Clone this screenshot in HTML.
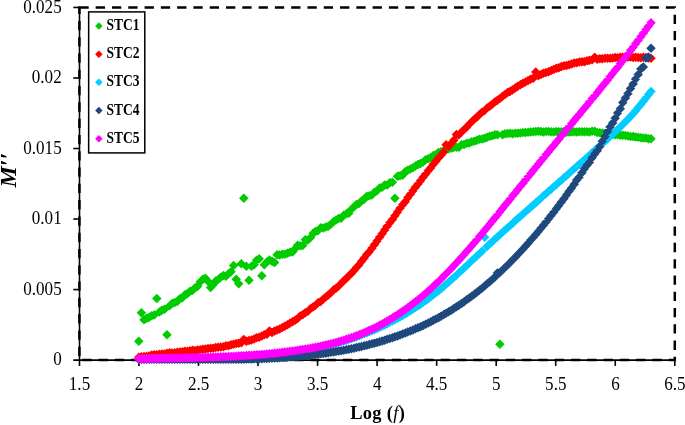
<!DOCTYPE html>
<html lang="en"><head><meta charset="utf-8"><title>M'' vs Log (f)</title>
<style>
html,body{margin:0;padding:0;background:#fff;}
body{width:685px;height:425px;position:relative;overflow:hidden;font-family:"Liberation Serif","DejaVu Serif",serif;}
svg text{font-family:"Liberation Serif","DejaVu Serif",serif;fill:#000;}
</style></head><body>
<svg width="685" height="425" viewBox="0 0 685 425" style="position:absolute;left:0;top:0">
<rect x="0" y="0" width="685" height="425" fill="#fff"/>
<g stroke="#000" stroke-width="1.6" fill="none">
<path d="M79.5 7.45V365.90000000000003"/>
<path d="M73.30000000000001 360.1H674.8"/>
<path d="M73.30000000000001 289.57H79.4"/>
<path d="M73.30000000000001 219.04H79.4"/>
<path d="M73.30000000000001 148.51H79.4"/>
<path d="M73.30000000000001 77.98H79.4"/>
<path d="M73.30000000000001 7.45H79.4"/>
<path d="M138.94 360.1V365.90000000000003"/>
<path d="M198.48 360.1V365.90000000000003"/>
<path d="M258.02 360.1V365.90000000000003"/>
<path d="M317.56 360.1V365.90000000000003"/>
<path d="M377.10 360.1V365.90000000000003"/>
<path d="M436.64 360.1V365.90000000000003"/>
<path d="M496.18 360.1V365.90000000000003"/>
<path d="M555.72 360.1V365.90000000000003"/>
<path d="M615.26 360.1V365.90000000000003"/>
<path d="M674.80 360.1V365.90000000000003"/>
</g>
<rect x="79.4" y="7.45" width="595.40" height="352.65" fill="none" stroke="#000" stroke-width="2.5" stroke-dasharray="9.3 6.99"/>
<path fill="#00CC00" d="M138.8 336.4l4.75 4.75l-4.75 4.75l-4.75 -4.75zM141.4 308.1l4.75 4.75l-4.75 4.75l-4.75 -4.75zM144.0 315.1l4.75 4.75l-4.75 4.75l-4.75 -4.75zM146.5 313.5l4.75 4.75l-4.75 4.75l-4.75 -4.75zM149.1 312.5l4.75 4.75l-4.75 4.75l-4.75 -4.75zM151.7 310.9l4.75 4.75l-4.75 4.75l-4.75 -4.75zM154.2 310.2l4.75 4.75l-4.75 4.75l-4.75 -4.75zM156.8 293.8l4.75 4.75l-4.75 4.75l-4.75 -4.75zM159.3 307.3l4.75 4.75l-4.75 4.75l-4.75 -4.75zM161.9 305.6l4.75 4.75l-4.75 4.75l-4.75 -4.75zM164.5 304.5l4.75 4.75l-4.75 4.75l-4.75 -4.75zM167.0 330.1l4.75 4.75l-4.75 4.75l-4.75 -4.75zM169.6 301.0l4.75 4.75l-4.75 4.75l-4.75 -4.75zM172.1 298.8l4.75 4.75l-4.75 4.75l-4.75 -4.75zM174.7 297.8l4.75 4.75l-4.75 4.75l-4.75 -4.75zM177.3 296.8l4.75 4.75l-4.75 4.75l-4.75 -4.75zM179.8 294.0l4.75 4.75l-4.75 4.75l-4.75 -4.75zM182.4 293.0l4.75 4.75l-4.75 4.75l-4.75 -4.75zM184.9 290.1l4.75 4.75l-4.75 4.75l-4.75 -4.75zM187.5 288.7l4.75 4.75l-4.75 4.75l-4.75 -4.75zM190.1 286.4l4.75 4.75l-4.75 4.75l-4.75 -4.75zM192.6 285.6l4.75 4.75l-4.75 4.75l-4.75 -4.75zM195.2 283.1l4.75 4.75l-4.75 4.75l-4.75 -4.75zM197.7 281.6l4.75 4.75l-4.75 4.75l-4.75 -4.75zM200.3 277.0l4.75 4.75l-4.75 4.75l-4.75 -4.75zM202.9 274.6l4.75 4.75l-4.75 4.75l-4.75 -4.75zM205.4 273.6l4.75 4.75l-4.75 4.75l-4.75 -4.75zM208.0 276.4l4.75 4.75l-4.75 4.75l-4.75 -4.75zM210.6 282.8l4.75 4.75l-4.75 4.75l-4.75 -4.75zM213.1 280.1l4.75 4.75l-4.75 4.75l-4.75 -4.75zM215.7 276.2l4.75 4.75l-4.75 4.75l-4.75 -4.75zM218.2 274.8l4.75 4.75l-4.75 4.75l-4.75 -4.75zM220.8 272.5l4.75 4.75l-4.75 4.75l-4.75 -4.75zM223.4 270.7l4.75 4.75l-4.75 4.75l-4.75 -4.75zM225.9 271.4l4.75 4.75l-4.75 4.75l-4.75 -4.75zM228.5 269.0l4.75 4.75l-4.75 4.75l-4.75 -4.75zM231.0 266.9l4.75 4.75l-4.75 4.75l-4.75 -4.75zM233.6 260.8l4.75 4.75l-4.75 4.75l-4.75 -4.75zM236.2 274.4l4.75 4.75l-4.75 4.75l-4.75 -4.75zM238.7 279.1l4.75 4.75l-4.75 4.75l-4.75 -4.75zM241.3 258.9l4.75 4.75l-4.75 4.75l-4.75 -4.75zM243.8 193.4l4.75 4.75l-4.75 4.75l-4.75 -4.75zM246.4 261.6l4.75 4.75l-4.75 4.75l-4.75 -4.75zM249.0 275.6l4.75 4.75l-4.75 4.75l-4.75 -4.75zM251.5 261.5l4.75 4.75l-4.75 4.75l-4.75 -4.75zM254.1 260.1l4.75 4.75l-4.75 4.75l-4.75 -4.75zM256.6 255.4l4.75 4.75l-4.75 4.75l-4.75 -4.75zM259.2 254.0l4.75 4.75l-4.75 4.75l-4.75 -4.75zM261.8 270.9l4.75 4.75l-4.75 4.75l-4.75 -4.75zM264.3 260.1l4.75 4.75l-4.75 4.75l-4.75 -4.75zM266.9 257.3l4.75 4.75l-4.75 4.75l-4.75 -4.75zM269.4 255.3l4.75 4.75l-4.75 4.75l-4.75 -4.75zM272.0 256.6l4.75 4.75l-4.75 4.75l-4.75 -4.75zM274.6 257.8l4.75 4.75l-4.75 4.75l-4.75 -4.75zM277.1 250.0l4.75 4.75l-4.75 4.75l-4.75 -4.75zM279.7 250.3l4.75 4.75l-4.75 4.75l-4.75 -4.75zM282.3 249.6l4.75 4.75l-4.75 4.75l-4.75 -4.75zM284.8 249.5l4.75 4.75l-4.75 4.75l-4.75 -4.75zM287.4 248.4l4.75 4.75l-4.75 4.75l-4.75 -4.75zM289.9 247.6l4.75 4.75l-4.75 4.75l-4.75 -4.75zM292.5 247.3l4.75 4.75l-4.75 4.75l-4.75 -4.75zM295.1 244.0l4.75 4.75l-4.75 4.75l-4.75 -4.75zM297.6 240.5l4.75 4.75l-4.75 4.75l-4.75 -4.75zM300.2 241.1l4.75 4.75l-4.75 4.75l-4.75 -4.75zM302.7 240.8l4.75 4.75l-4.75 4.75l-4.75 -4.75zM305.3 235.1l4.75 4.75l-4.75 4.75l-4.75 -4.75zM307.9 235.3l4.75 4.75l-4.75 4.75l-4.75 -4.75zM310.4 233.0l4.75 4.75l-4.75 4.75l-4.75 -4.75zM313.0 228.7l4.75 4.75l-4.75 4.75l-4.75 -4.75zM315.5 226.7l4.75 4.75l-4.75 4.75l-4.75 -4.75zM318.1 225.8l4.75 4.75l-4.75 4.75l-4.75 -4.75zM320.7 222.9l4.75 4.75l-4.75 4.75l-4.75 -4.75zM323.2 223.2l4.75 4.75l-4.75 4.75l-4.75 -4.75zM325.8 222.2l4.75 4.75l-4.75 4.75l-4.75 -4.75zM328.3 221.5l4.75 4.75l-4.75 4.75l-4.75 -4.75zM330.9 219.4l4.75 4.75l-4.75 4.75l-4.75 -4.75zM333.5 216.9l4.75 4.75l-4.75 4.75l-4.75 -4.75zM336.0 215.2l4.75 4.75l-4.75 4.75l-4.75 -4.75zM338.6 213.8l4.75 4.75l-4.75 4.75l-4.75 -4.75zM341.1 213.6l4.75 4.75l-4.75 4.75l-4.75 -4.75zM343.7 210.6l4.75 4.75l-4.75 4.75l-4.75 -4.75zM346.3 209.1l4.75 4.75l-4.75 4.75l-4.75 -4.75zM348.8 208.5l4.75 4.75l-4.75 4.75l-4.75 -4.75zM351.4 204.5l4.75 4.75l-4.75 4.75l-4.75 -4.75zM354.0 202.1l4.75 4.75l-4.75 4.75l-4.75 -4.75zM356.5 199.8l4.75 4.75l-4.75 4.75l-4.75 -4.75zM359.1 198.6l4.75 4.75l-4.75 4.75l-4.75 -4.75zM361.6 196.2l4.75 4.75l-4.75 4.75l-4.75 -4.75zM364.2 194.6l4.75 4.75l-4.75 4.75l-4.75 -4.75zM366.8 191.6l4.75 4.75l-4.75 4.75l-4.75 -4.75zM369.3 191.1l4.75 4.75l-4.75 4.75l-4.75 -4.75zM371.9 190.3l4.75 4.75l-4.75 4.75l-4.75 -4.75zM374.4 187.4l4.75 4.75l-4.75 4.75l-4.75 -4.75zM377.0 186.1l4.75 4.75l-4.75 4.75l-4.75 -4.75zM379.6 183.2l4.75 4.75l-4.75 4.75l-4.75 -4.75zM382.1 182.4l4.75 4.75l-4.75 4.75l-4.75 -4.75zM384.7 180.3l4.75 4.75l-4.75 4.75l-4.75 -4.75zM387.2 180.3l4.75 4.75l-4.75 4.75l-4.75 -4.75zM389.8 178.1l4.75 4.75l-4.75 4.75l-4.75 -4.75zM392.4 177.4l4.75 4.75l-4.75 4.75l-4.75 -4.75zM394.9 193.4l4.75 4.75l-4.75 4.75l-4.75 -4.75zM397.5 171.6l4.75 4.75l-4.75 4.75l-4.75 -4.75zM400.0 171.0l4.75 4.75l-4.75 4.75l-4.75 -4.75zM402.6 170.5l4.75 4.75l-4.75 4.75l-4.75 -4.75zM405.2 167.0l4.75 4.75l-4.75 4.75l-4.75 -4.75zM407.7 165.4l4.75 4.75l-4.75 4.75l-4.75 -4.75zM410.3 164.3l4.75 4.75l-4.75 4.75l-4.75 -4.75zM412.9 163.0l4.75 4.75l-4.75 4.75l-4.75 -4.75zM415.4 161.2l4.75 4.75l-4.75 4.75l-4.75 -4.75zM418.0 159.8l4.75 4.75l-4.75 4.75l-4.75 -4.75zM420.5 158.8l4.75 4.75l-4.75 4.75l-4.75 -4.75zM423.1 157.3l4.75 4.75l-4.75 4.75l-4.75 -4.75zM425.7 155.1l4.75 4.75l-4.75 4.75l-4.75 -4.75zM428.2 154.1l4.75 4.75l-4.75 4.75l-4.75 -4.75zM430.8 152.8l4.75 4.75l-4.75 4.75l-4.75 -4.75zM433.3 150.7l4.75 4.75l-4.75 4.75l-4.75 -4.75zM435.9 149.7l4.75 4.75l-4.75 4.75l-4.75 -4.75zM438.5 147.7l4.75 4.75l-4.75 4.75l-4.75 -4.75zM441.0 147.1l4.75 4.75l-4.75 4.75l-4.75 -4.75zM443.6 146.0l4.75 4.75l-4.75 4.75l-4.75 -4.75zM446.1 145.1l4.75 4.75l-4.75 4.75l-4.75 -4.75zM448.7 144.1l4.75 4.75l-4.75 4.75l-4.75 -4.75zM451.3 143.4l4.75 4.75l-4.75 4.75l-4.75 -4.75zM453.8 142.5l4.75 4.75l-4.75 4.75l-4.75 -4.75zM456.4 142.6l4.75 4.75l-4.75 4.75l-4.75 -4.75zM458.9 142.4l4.75 4.75l-4.75 4.75l-4.75 -4.75zM461.5 140.0l4.75 4.75l-4.75 4.75l-4.75 -4.75zM464.1 139.8l4.75 4.75l-4.75 4.75l-4.75 -4.75zM466.6 138.4l4.75 4.75l-4.75 4.75l-4.75 -4.75zM469.2 138.2l4.75 4.75l-4.75 4.75l-4.75 -4.75zM471.7 137.0l4.75 4.75l-4.75 4.75l-4.75 -4.75zM474.3 136.5l4.75 4.75l-4.75 4.75l-4.75 -4.75zM476.9 135.6l4.75 4.75l-4.75 4.75l-4.75 -4.75zM479.4 134.4l4.75 4.75l-4.75 4.75l-4.75 -4.75zM482.0 134.3l4.75 4.75l-4.75 4.75l-4.75 -4.75zM484.6 133.6l4.75 4.75l-4.75 4.75l-4.75 -4.75zM487.1 132.4l4.75 4.75l-4.75 4.75l-4.75 -4.75zM489.7 131.6l4.75 4.75l-4.75 4.75l-4.75 -4.75zM492.2 130.9l4.75 4.75l-4.75 4.75l-4.75 -4.75zM494.8 130.0l4.75 4.75l-4.75 4.75l-4.75 -4.75zM497.4 129.9l4.75 4.75l-4.75 4.75l-4.75 -4.75zM499.9 339.6l4.75 4.75l-4.75 4.75l-4.75 -4.75zM502.5 130.0l4.75 4.75l-4.75 4.75l-4.75 -4.75zM505.0 128.9l4.75 4.75l-4.75 4.75l-4.75 -4.75zM507.6 128.8l4.75 4.75l-4.75 4.75l-4.75 -4.75zM510.2 128.5l4.75 4.75l-4.75 4.75l-4.75 -4.75zM512.7 128.9l4.75 4.75l-4.75 4.75l-4.75 -4.75zM515.3 128.5l4.75 4.75l-4.75 4.75l-4.75 -4.75zM517.8 128.6l4.75 4.75l-4.75 4.75l-4.75 -4.75zM520.4 128.2l4.75 4.75l-4.75 4.75l-4.75 -4.75zM523.0 127.8l4.75 4.75l-4.75 4.75l-4.75 -4.75zM525.5 127.7l4.75 4.75l-4.75 4.75l-4.75 -4.75zM528.1 127.4l4.75 4.75l-4.75 4.75l-4.75 -4.75zM530.6 127.3l4.75 4.75l-4.75 4.75l-4.75 -4.75zM533.2 127.0l4.75 4.75l-4.75 4.75l-4.75 -4.75zM535.8 126.8l4.75 4.75l-4.75 4.75l-4.75 -4.75zM538.3 126.6l4.75 4.75l-4.75 4.75l-4.75 -4.75zM540.9 126.7l4.75 4.75l-4.75 4.75l-4.75 -4.75zM543.4 127.3l4.75 4.75l-4.75 4.75l-4.75 -4.75zM546.0 126.8l4.75 4.75l-4.75 4.75l-4.75 -4.75zM548.6 126.8l4.75 4.75l-4.75 4.75l-4.75 -4.75zM551.1 127.1l4.75 4.75l-4.75 4.75l-4.75 -4.75zM553.7 127.3l4.75 4.75l-4.75 4.75l-4.75 -4.75zM556.3 126.8l4.75 4.75l-4.75 4.75l-4.75 -4.75zM558.8 127.1l4.75 4.75l-4.75 4.75l-4.75 -4.75zM561.4 127.0l4.75 4.75l-4.75 4.75l-4.75 -4.75zM563.9 126.8l4.75 4.75l-4.75 4.75l-4.75 -4.75zM566.5 127.4l4.75 4.75l-4.75 4.75l-4.75 -4.75zM569.1 127.2l4.75 4.75l-4.75 4.75l-4.75 -4.75zM571.6 127.2l4.75 4.75l-4.75 4.75l-4.75 -4.75zM574.2 127.1l4.75 4.75l-4.75 4.75l-4.75 -4.75zM576.7 127.3l4.75 4.75l-4.75 4.75l-4.75 -4.75zM579.3 127.1l4.75 4.75l-4.75 4.75l-4.75 -4.75zM581.9 127.1l4.75 4.75l-4.75 4.75l-4.75 -4.75zM584.4 126.9l4.75 4.75l-4.75 4.75l-4.75 -4.75zM587.0 126.9l4.75 4.75l-4.75 4.75l-4.75 -4.75zM589.5 127.3l4.75 4.75l-4.75 4.75l-4.75 -4.75zM592.1 126.6l4.75 4.75l-4.75 4.75l-4.75 -4.75zM594.7 126.5l4.75 4.75l-4.75 4.75l-4.75 -4.75zM597.2 127.7l4.75 4.75l-4.75 4.75l-4.75 -4.75zM599.8 127.9l4.75 4.75l-4.75 4.75l-4.75 -4.75zM602.3 128.2l4.75 4.75l-4.75 4.75l-4.75 -4.75zM604.9 128.7l4.75 4.75l-4.75 4.75l-4.75 -4.75zM607.5 128.8l4.75 4.75l-4.75 4.75l-4.75 -4.75zM610.0 129.1l4.75 4.75l-4.75 4.75l-4.75 -4.75zM612.6 129.4l4.75 4.75l-4.75 4.75l-4.75 -4.75zM615.1 129.9l4.75 4.75l-4.75 4.75l-4.75 -4.75zM617.7 130.1l4.75 4.75l-4.75 4.75l-4.75 -4.75zM620.3 130.4l4.75 4.75l-4.75 4.75l-4.75 -4.75zM622.8 130.5l4.75 4.75l-4.75 4.75l-4.75 -4.75zM625.4 130.7l4.75 4.75l-4.75 4.75l-4.75 -4.75zM628.0 131.3l4.75 4.75l-4.75 4.75l-4.75 -4.75zM630.5 131.7l4.75 4.75l-4.75 4.75l-4.75 -4.75zM633.1 131.8l4.75 4.75l-4.75 4.75l-4.75 -4.75zM635.6 132.2l4.75 4.75l-4.75 4.75l-4.75 -4.75zM638.2 132.6l4.75 4.75l-4.75 4.75l-4.75 -4.75zM640.8 132.9l4.75 4.75l-4.75 4.75l-4.75 -4.75zM643.3 133.2l4.75 4.75l-4.75 4.75l-4.75 -4.75zM645.9 133.3l4.75 4.75l-4.75 4.75l-4.75 -4.75zM648.4 134.0l4.75 4.75l-4.75 4.75l-4.75 -4.75zM651.0 133.9l4.75 4.75l-4.75 4.75l-4.75 -4.75z"/>
<path fill="#FF0000" d="M138.8 352.6l4.75 4.75l-4.75 4.75l-4.75 -4.75zM141.4 352.1l4.75 4.75l-4.75 4.75l-4.75 -4.75zM144.0 351.8l4.75 4.75l-4.75 4.75l-4.75 -4.75zM146.5 351.7l4.75 4.75l-4.75 4.75l-4.75 -4.75zM149.1 351.2l4.75 4.75l-4.75 4.75l-4.75 -4.75zM151.7 350.3l4.75 4.75l-4.75 4.75l-4.75 -4.75zM154.2 349.9l4.75 4.75l-4.75 4.75l-4.75 -4.75zM156.8 350.1l4.75 4.75l-4.75 4.75l-4.75 -4.75zM159.3 349.4l4.75 4.75l-4.75 4.75l-4.75 -4.75zM161.9 349.3l4.75 4.75l-4.75 4.75l-4.75 -4.75zM164.5 349.2l4.75 4.75l-4.75 4.75l-4.75 -4.75zM167.0 348.4l4.75 4.75l-4.75 4.75l-4.75 -4.75zM169.6 348.0l4.75 4.75l-4.75 4.75l-4.75 -4.75zM172.1 348.2l4.75 4.75l-4.75 4.75l-4.75 -4.75zM174.7 347.9l4.75 4.75l-4.75 4.75l-4.75 -4.75zM177.3 347.6l4.75 4.75l-4.75 4.75l-4.75 -4.75zM179.8 347.3l4.75 4.75l-4.75 4.75l-4.75 -4.75zM182.4 346.9l4.75 4.75l-4.75 4.75l-4.75 -4.75zM184.9 346.5l4.75 4.75l-4.75 4.75l-4.75 -4.75zM187.5 346.5l4.75 4.75l-4.75 4.75l-4.75 -4.75zM190.1 346.0l4.75 4.75l-4.75 4.75l-4.75 -4.75zM192.6 345.6l4.75 4.75l-4.75 4.75l-4.75 -4.75zM195.2 345.8l4.75 4.75l-4.75 4.75l-4.75 -4.75zM197.7 345.3l4.75 4.75l-4.75 4.75l-4.75 -4.75zM200.3 345.1l4.75 4.75l-4.75 4.75l-4.75 -4.75zM202.9 344.5l4.75 4.75l-4.75 4.75l-4.75 -4.75zM205.4 344.3l4.75 4.75l-4.75 4.75l-4.75 -4.75zM208.0 343.8l4.75 4.75l-4.75 4.75l-4.75 -4.75zM210.6 343.5l4.75 4.75l-4.75 4.75l-4.75 -4.75zM213.1 343.4l4.75 4.75l-4.75 4.75l-4.75 -4.75zM215.7 342.8l4.75 4.75l-4.75 4.75l-4.75 -4.75zM218.2 342.6l4.75 4.75l-4.75 4.75l-4.75 -4.75zM220.8 342.2l4.75 4.75l-4.75 4.75l-4.75 -4.75zM223.4 342.0l4.75 4.75l-4.75 4.75l-4.75 -4.75zM225.9 340.9l4.75 4.75l-4.75 4.75l-4.75 -4.75zM228.5 340.9l4.75 4.75l-4.75 4.75l-4.75 -4.75zM231.0 340.1l4.75 4.75l-4.75 4.75l-4.75 -4.75zM233.6 339.6l4.75 4.75l-4.75 4.75l-4.75 -4.75zM236.2 338.8l4.75 4.75l-4.75 4.75l-4.75 -4.75zM238.7 338.4l4.75 4.75l-4.75 4.75l-4.75 -4.75zM241.3 338.0l4.75 4.75l-4.75 4.75l-4.75 -4.75zM243.8 334.8l4.75 4.75l-4.75 4.75l-4.75 -4.75zM246.4 336.5l4.75 4.75l-4.75 4.75l-4.75 -4.75zM249.0 335.7l4.75 4.75l-4.75 4.75l-4.75 -4.75zM251.5 335.3l4.75 4.75l-4.75 4.75l-4.75 -4.75zM254.1 334.2l4.75 4.75l-4.75 4.75l-4.75 -4.75zM256.6 333.0l4.75 4.75l-4.75 4.75l-4.75 -4.75zM259.2 332.4l4.75 4.75l-4.75 4.75l-4.75 -4.75zM261.8 331.3l4.75 4.75l-4.75 4.75l-4.75 -4.75zM264.3 330.1l4.75 4.75l-4.75 4.75l-4.75 -4.75zM266.9 329.6l4.75 4.75l-4.75 4.75l-4.75 -4.75zM269.4 326.2l4.75 4.75l-4.75 4.75l-4.75 -4.75zM272.0 327.7l4.75 4.75l-4.75 4.75l-4.75 -4.75zM274.6 326.3l4.75 4.75l-4.75 4.75l-4.75 -4.75zM277.1 325.2l4.75 4.75l-4.75 4.75l-4.75 -4.75zM279.7 324.3l4.75 4.75l-4.75 4.75l-4.75 -4.75zM282.3 322.8l4.75 4.75l-4.75 4.75l-4.75 -4.75zM284.8 321.5l4.75 4.75l-4.75 4.75l-4.75 -4.75zM287.4 320.0l4.75 4.75l-4.75 4.75l-4.75 -4.75zM289.9 318.6l4.75 4.75l-4.75 4.75l-4.75 -4.75zM292.5 317.1l4.75 4.75l-4.75 4.75l-4.75 -4.75zM295.1 315.5l4.75 4.75l-4.75 4.75l-4.75 -4.75zM297.6 313.7l4.75 4.75l-4.75 4.75l-4.75 -4.75zM300.2 311.2l4.75 4.75l-4.75 4.75l-4.75 -4.75zM302.7 310.1l4.75 4.75l-4.75 4.75l-4.75 -4.75zM305.3 308.0l4.75 4.75l-4.75 4.75l-4.75 -4.75zM307.9 306.4l4.75 4.75l-4.75 4.75l-4.75 -4.75zM310.4 304.0l4.75 4.75l-4.75 4.75l-4.75 -4.75zM313.0 302.3l4.75 4.75l-4.75 4.75l-4.75 -4.75zM315.5 300.4l4.75 4.75l-4.75 4.75l-4.75 -4.75zM318.1 298.1l4.75 4.75l-4.75 4.75l-4.75 -4.75zM320.7 296.7l4.75 4.75l-4.75 4.75l-4.75 -4.75zM323.2 294.6l4.75 4.75l-4.75 4.75l-4.75 -4.75zM325.8 292.2l4.75 4.75l-4.75 4.75l-4.75 -4.75zM328.3 290.3l4.75 4.75l-4.75 4.75l-4.75 -4.75zM330.9 288.1l4.75 4.75l-4.75 4.75l-4.75 -4.75zM333.5 285.3l4.75 4.75l-4.75 4.75l-4.75 -4.75zM336.0 283.6l4.75 4.75l-4.75 4.75l-4.75 -4.75zM338.6 281.2l4.75 4.75l-4.75 4.75l-4.75 -4.75zM341.1 278.8l4.75 4.75l-4.75 4.75l-4.75 -4.75zM343.7 276.1l4.75 4.75l-4.75 4.75l-4.75 -4.75zM346.3 273.7l4.75 4.75l-4.75 4.75l-4.75 -4.75zM348.8 271.1l4.75 4.75l-4.75 4.75l-4.75 -4.75zM351.4 268.7l4.75 4.75l-4.75 4.75l-4.75 -4.75zM354.0 265.7l4.75 4.75l-4.75 4.75l-4.75 -4.75zM356.5 262.7l4.75 4.75l-4.75 4.75l-4.75 -4.75zM359.1 260.0l4.75 4.75l-4.75 4.75l-4.75 -4.75zM361.6 256.4l4.75 4.75l-4.75 4.75l-4.75 -4.75zM364.2 253.3l4.75 4.75l-4.75 4.75l-4.75 -4.75zM366.8 249.7l4.75 4.75l-4.75 4.75l-4.75 -4.75zM369.3 247.0l4.75 4.75l-4.75 4.75l-4.75 -4.75zM371.9 243.4l4.75 4.75l-4.75 4.75l-4.75 -4.75zM374.4 239.9l4.75 4.75l-4.75 4.75l-4.75 -4.75zM377.0 236.2l4.75 4.75l-4.75 4.75l-4.75 -4.75zM379.6 232.5l4.75 4.75l-4.75 4.75l-4.75 -4.75zM382.1 228.9l4.75 4.75l-4.75 4.75l-4.75 -4.75zM384.7 225.2l4.75 4.75l-4.75 4.75l-4.75 -4.75zM387.2 221.6l4.75 4.75l-4.75 4.75l-4.75 -4.75zM389.8 218.0l4.75 4.75l-4.75 4.75l-4.75 -4.75zM392.4 214.7l4.75 4.75l-4.75 4.75l-4.75 -4.75zM394.9 210.9l4.75 4.75l-4.75 4.75l-4.75 -4.75zM397.5 207.2l4.75 4.75l-4.75 4.75l-4.75 -4.75zM400.0 203.5l4.75 4.75l-4.75 4.75l-4.75 -4.75zM402.6 199.9l4.75 4.75l-4.75 4.75l-4.75 -4.75zM405.2 196.9l4.75 4.75l-4.75 4.75l-4.75 -4.75zM407.7 193.1l4.75 4.75l-4.75 4.75l-4.75 -4.75zM410.3 189.6l4.75 4.75l-4.75 4.75l-4.75 -4.75zM412.9 186.1l4.75 4.75l-4.75 4.75l-4.75 -4.75zM415.4 182.5l4.75 4.75l-4.75 4.75l-4.75 -4.75zM418.0 179.3l4.75 4.75l-4.75 4.75l-4.75 -4.75zM420.5 176.1l4.75 4.75l-4.75 4.75l-4.75 -4.75zM423.1 172.6l4.75 4.75l-4.75 4.75l-4.75 -4.75zM425.7 169.3l4.75 4.75l-4.75 4.75l-4.75 -4.75zM428.2 166.0l4.75 4.75l-4.75 4.75l-4.75 -4.75zM430.8 162.9l4.75 4.75l-4.75 4.75l-4.75 -4.75zM433.3 159.4l4.75 4.75l-4.75 4.75l-4.75 -4.75zM435.9 156.5l4.75 4.75l-4.75 4.75l-4.75 -4.75zM438.5 153.2l4.75 4.75l-4.75 4.75l-4.75 -4.75zM441.0 150.5l4.75 4.75l-4.75 4.75l-4.75 -4.75zM443.6 147.2l4.75 4.75l-4.75 4.75l-4.75 -4.75zM446.1 140.1l4.75 4.75l-4.75 4.75l-4.75 -4.75zM448.7 141.7l4.75 4.75l-4.75 4.75l-4.75 -4.75zM451.3 138.4l4.75 4.75l-4.75 4.75l-4.75 -4.75zM453.8 135.5l4.75 4.75l-4.75 4.75l-4.75 -4.75zM456.4 129.8l4.75 4.75l-4.75 4.75l-4.75 -4.75zM458.9 130.1l4.75 4.75l-4.75 4.75l-4.75 -4.75zM461.5 127.2l4.75 4.75l-4.75 4.75l-4.75 -4.75zM464.1 124.8l4.75 4.75l-4.75 4.75l-4.75 -4.75zM466.6 122.6l4.75 4.75l-4.75 4.75l-4.75 -4.75zM469.2 119.6l4.75 4.75l-4.75 4.75l-4.75 -4.75zM471.7 117.1l4.75 4.75l-4.75 4.75l-4.75 -4.75zM474.3 114.5l4.75 4.75l-4.75 4.75l-4.75 -4.75zM476.9 112.4l4.75 4.75l-4.75 4.75l-4.75 -4.75zM479.4 109.8l4.75 4.75l-4.75 4.75l-4.75 -4.75zM482.0 107.6l4.75 4.75l-4.75 4.75l-4.75 -4.75zM484.6 105.8l4.75 4.75l-4.75 4.75l-4.75 -4.75zM487.1 103.2l4.75 4.75l-4.75 4.75l-4.75 -4.75zM489.7 101.5l4.75 4.75l-4.75 4.75l-4.75 -4.75zM492.2 99.6l4.75 4.75l-4.75 4.75l-4.75 -4.75zM494.8 97.3l4.75 4.75l-4.75 4.75l-4.75 -4.75zM497.4 95.5l4.75 4.75l-4.75 4.75l-4.75 -4.75zM499.9 93.8l4.75 4.75l-4.75 4.75l-4.75 -4.75zM502.5 91.6l4.75 4.75l-4.75 4.75l-4.75 -4.75zM505.0 89.7l4.75 4.75l-4.75 4.75l-4.75 -4.75zM507.6 87.8l4.75 4.75l-4.75 4.75l-4.75 -4.75zM510.2 86.4l4.75 4.75l-4.75 4.75l-4.75 -4.75zM512.7 85.0l4.75 4.75l-4.75 4.75l-4.75 -4.75zM515.3 83.3l4.75 4.75l-4.75 4.75l-4.75 -4.75zM517.8 81.4l4.75 4.75l-4.75 4.75l-4.75 -4.75zM520.4 79.9l4.75 4.75l-4.75 4.75l-4.75 -4.75zM523.0 78.6l4.75 4.75l-4.75 4.75l-4.75 -4.75zM525.5 77.3l4.75 4.75l-4.75 4.75l-4.75 -4.75zM528.1 75.8l4.75 4.75l-4.75 4.75l-4.75 -4.75zM530.6 74.6l4.75 4.75l-4.75 4.75l-4.75 -4.75zM533.2 73.4l4.75 4.75l-4.75 4.75l-4.75 -4.75zM535.8 67.2l4.75 4.75l-4.75 4.75l-4.75 -4.75zM538.3 70.9l4.75 4.75l-4.75 4.75l-4.75 -4.75zM540.9 69.8l4.75 4.75l-4.75 4.75l-4.75 -4.75zM543.4 68.6l4.75 4.75l-4.75 4.75l-4.75 -4.75zM546.0 67.7l4.75 4.75l-4.75 4.75l-4.75 -4.75zM548.6 67.0l4.75 4.75l-4.75 4.75l-4.75 -4.75zM551.1 65.7l4.75 4.75l-4.75 4.75l-4.75 -4.75zM553.7 64.7l4.75 4.75l-4.75 4.75l-4.75 -4.75zM556.3 63.5l4.75 4.75l-4.75 4.75l-4.75 -4.75zM558.8 63.0l4.75 4.75l-4.75 4.75l-4.75 -4.75zM561.4 61.7l4.75 4.75l-4.75 4.75l-4.75 -4.75zM563.9 61.1l4.75 4.75l-4.75 4.75l-4.75 -4.75zM566.5 60.8l4.75 4.75l-4.75 4.75l-4.75 -4.75zM569.1 60.1l4.75 4.75l-4.75 4.75l-4.75 -4.75zM571.6 59.2l4.75 4.75l-4.75 4.75l-4.75 -4.75zM574.2 58.3l4.75 4.75l-4.75 4.75l-4.75 -4.75zM576.7 58.0l4.75 4.75l-4.75 4.75l-4.75 -4.75zM579.3 57.3l4.75 4.75l-4.75 4.75l-4.75 -4.75zM581.9 57.1l4.75 4.75l-4.75 4.75l-4.75 -4.75zM584.4 56.9l4.75 4.75l-4.75 4.75l-4.75 -4.75zM587.0 56.0l4.75 4.75l-4.75 4.75l-4.75 -4.75zM589.5 55.4l4.75 4.75l-4.75 4.75l-4.75 -4.75zM592.1 54.9l4.75 4.75l-4.75 4.75l-4.75 -4.75zM594.7 52.6l4.75 4.75l-4.75 4.75l-4.75 -4.75zM597.2 54.4l4.75 4.75l-4.75 4.75l-4.75 -4.75zM599.8 53.9l4.75 4.75l-4.75 4.75l-4.75 -4.75zM602.3 53.9l4.75 4.75l-4.75 4.75l-4.75 -4.75zM604.9 53.4l4.75 4.75l-4.75 4.75l-4.75 -4.75zM607.5 53.6l4.75 4.75l-4.75 4.75l-4.75 -4.75zM610.0 53.4l4.75 4.75l-4.75 4.75l-4.75 -4.75zM612.6 53.2l4.75 4.75l-4.75 4.75l-4.75 -4.75zM615.1 52.8l4.75 4.75l-4.75 4.75l-4.75 -4.75zM617.7 52.9l4.75 4.75l-4.75 4.75l-4.75 -4.75zM620.3 52.6l4.75 4.75l-4.75 4.75l-4.75 -4.75zM622.8 52.5l4.75 4.75l-4.75 4.75l-4.75 -4.75zM625.4 52.5l4.75 4.75l-4.75 4.75l-4.75 -4.75zM628.0 52.3l4.75 4.75l-4.75 4.75l-4.75 -4.75zM630.5 52.3l4.75 4.75l-4.75 4.75l-4.75 -4.75zM633.1 52.7l4.75 4.75l-4.75 4.75l-4.75 -4.75zM635.6 52.6l4.75 4.75l-4.75 4.75l-4.75 -4.75zM638.2 52.7l4.75 4.75l-4.75 4.75l-4.75 -4.75zM640.8 53.0l4.75 4.75l-4.75 4.75l-4.75 -4.75zM643.3 52.5l4.75 4.75l-4.75 4.75l-4.75 -4.75zM645.9 52.8l4.75 4.75l-4.75 4.75l-4.75 -4.75zM648.4 53.2l4.75 4.75l-4.75 4.75l-4.75 -4.75zM651.0 53.4l4.75 4.75l-4.75 4.75l-4.75 -4.75z"/>
<path fill="#00CCFF" d="M138.8 354.3l4.75 4.75l-4.75 4.75l-4.75 -4.75zM141.4 354.2l4.75 4.75l-4.75 4.75l-4.75 -4.75zM144.0 354.1l4.75 4.75l-4.75 4.75l-4.75 -4.75zM146.5 354.1l4.75 4.75l-4.75 4.75l-4.75 -4.75zM149.1 354.0l4.75 4.75l-4.75 4.75l-4.75 -4.75zM151.7 354.0l4.75 4.75l-4.75 4.75l-4.75 -4.75zM154.2 353.9l4.75 4.75l-4.75 4.75l-4.75 -4.75zM156.8 353.9l4.75 4.75l-4.75 4.75l-4.75 -4.75zM159.3 353.8l4.75 4.75l-4.75 4.75l-4.75 -4.75zM161.9 353.8l4.75 4.75l-4.75 4.75l-4.75 -4.75zM164.5 353.8l4.75 4.75l-4.75 4.75l-4.75 -4.75zM167.0 353.8l4.75 4.75l-4.75 4.75l-4.75 -4.75zM169.6 353.7l4.75 4.75l-4.75 4.75l-4.75 -4.75zM172.1 353.7l4.75 4.75l-4.75 4.75l-4.75 -4.75zM174.7 353.7l4.75 4.75l-4.75 4.75l-4.75 -4.75zM177.3 353.7l4.75 4.75l-4.75 4.75l-4.75 -4.75zM179.8 353.7l4.75 4.75l-4.75 4.75l-4.75 -4.75zM182.4 353.7l4.75 4.75l-4.75 4.75l-4.75 -4.75zM184.9 353.6l4.75 4.75l-4.75 4.75l-4.75 -4.75zM187.5 353.6l4.75 4.75l-4.75 4.75l-4.75 -4.75zM190.1 353.6l4.75 4.75l-4.75 4.75l-4.75 -4.75zM192.6 353.6l4.75 4.75l-4.75 4.75l-4.75 -4.75zM195.2 353.6l4.75 4.75l-4.75 4.75l-4.75 -4.75zM197.7 353.5l4.75 4.75l-4.75 4.75l-4.75 -4.75zM200.3 353.5l4.75 4.75l-4.75 4.75l-4.75 -4.75zM202.9 353.5l4.75 4.75l-4.75 4.75l-4.75 -4.75zM205.4 353.4l4.75 4.75l-4.75 4.75l-4.75 -4.75zM208.0 353.4l4.75 4.75l-4.75 4.75l-4.75 -4.75zM210.6 353.4l4.75 4.75l-4.75 4.75l-4.75 -4.75zM213.1 353.3l4.75 4.75l-4.75 4.75l-4.75 -4.75zM215.7 353.3l4.75 4.75l-4.75 4.75l-4.75 -4.75zM218.2 353.2l4.75 4.75l-4.75 4.75l-4.75 -4.75zM220.8 353.2l4.75 4.75l-4.75 4.75l-4.75 -4.75zM223.4 353.1l4.75 4.75l-4.75 4.75l-4.75 -4.75zM225.9 353.0l4.75 4.75l-4.75 4.75l-4.75 -4.75zM228.5 353.0l4.75 4.75l-4.75 4.75l-4.75 -4.75zM231.0 352.9l4.75 4.75l-4.75 4.75l-4.75 -4.75zM233.6 352.8l4.75 4.75l-4.75 4.75l-4.75 -4.75zM236.2 352.7l4.75 4.75l-4.75 4.75l-4.75 -4.75zM238.7 352.6l4.75 4.75l-4.75 4.75l-4.75 -4.75zM241.3 352.5l4.75 4.75l-4.75 4.75l-4.75 -4.75zM243.8 352.3l4.75 4.75l-4.75 4.75l-4.75 -4.75zM246.4 352.2l4.75 4.75l-4.75 4.75l-4.75 -4.75zM249.0 352.1l4.75 4.75l-4.75 4.75l-4.75 -4.75zM251.5 351.9l4.75 4.75l-4.75 4.75l-4.75 -4.75zM254.1 351.7l4.75 4.75l-4.75 4.75l-4.75 -4.75zM256.6 351.6l4.75 4.75l-4.75 4.75l-4.75 -4.75zM259.2 351.4l4.75 4.75l-4.75 4.75l-4.75 -4.75zM261.8 351.2l4.75 4.75l-4.75 4.75l-4.75 -4.75zM264.3 351.0l4.75 4.75l-4.75 4.75l-4.75 -4.75zM266.9 350.7l4.75 4.75l-4.75 4.75l-4.75 -4.75zM269.4 350.5l4.75 4.75l-4.75 4.75l-4.75 -4.75zM272.0 350.2l4.75 4.75l-4.75 4.75l-4.75 -4.75zM274.6 350.0l4.75 4.75l-4.75 4.75l-4.75 -4.75zM277.1 349.7l4.75 4.75l-4.75 4.75l-4.75 -4.75zM279.7 349.4l4.75 4.75l-4.75 4.75l-4.75 -4.75zM282.3 349.1l4.75 4.75l-4.75 4.75l-4.75 -4.75zM284.8 348.8l4.75 4.75l-4.75 4.75l-4.75 -4.75zM287.4 348.4l4.75 4.75l-4.75 4.75l-4.75 -4.75zM289.9 348.1l4.75 4.75l-4.75 4.75l-4.75 -4.75zM292.5 347.7l4.75 4.75l-4.75 4.75l-4.75 -4.75zM295.1 347.3l4.75 4.75l-4.75 4.75l-4.75 -4.75zM297.6 346.9l4.75 4.75l-4.75 4.75l-4.75 -4.75zM300.2 346.5l4.75 4.75l-4.75 4.75l-4.75 -4.75zM302.7 346.1l4.75 4.75l-4.75 4.75l-4.75 -4.75zM305.3 345.6l4.75 4.75l-4.75 4.75l-4.75 -4.75zM307.9 345.1l4.75 4.75l-4.75 4.75l-4.75 -4.75zM310.4 344.6l4.75 4.75l-4.75 4.75l-4.75 -4.75zM313.0 344.1l4.75 4.75l-4.75 4.75l-4.75 -4.75zM315.5 343.6l4.75 4.75l-4.75 4.75l-4.75 -4.75zM318.1 343.0l4.75 4.75l-4.75 4.75l-4.75 -4.75zM320.7 342.4l4.75 4.75l-4.75 4.75l-4.75 -4.75zM323.2 341.8l4.75 4.75l-4.75 4.75l-4.75 -4.75zM325.8 341.2l4.75 4.75l-4.75 4.75l-4.75 -4.75zM328.3 340.6l4.75 4.75l-4.75 4.75l-4.75 -4.75zM330.9 339.9l4.75 4.75l-4.75 4.75l-4.75 -4.75zM333.5 339.2l4.75 4.75l-4.75 4.75l-4.75 -4.75zM336.0 338.5l4.75 4.75l-4.75 4.75l-4.75 -4.75zM338.6 337.8l4.75 4.75l-4.75 4.75l-4.75 -4.75zM341.1 337.0l4.75 4.75l-4.75 4.75l-4.75 -4.75zM343.7 336.3l4.75 4.75l-4.75 4.75l-4.75 -4.75zM346.3 335.5l4.75 4.75l-4.75 4.75l-4.75 -4.75zM348.8 334.6l4.75 4.75l-4.75 4.75l-4.75 -4.75zM351.4 333.8l4.75 4.75l-4.75 4.75l-4.75 -4.75zM354.0 332.9l4.75 4.75l-4.75 4.75l-4.75 -4.75zM356.5 332.0l4.75 4.75l-4.75 4.75l-4.75 -4.75zM359.1 331.0l4.75 4.75l-4.75 4.75l-4.75 -4.75zM361.6 330.1l4.75 4.75l-4.75 4.75l-4.75 -4.75zM364.2 329.1l4.75 4.75l-4.75 4.75l-4.75 -4.75zM366.8 328.1l4.75 4.75l-4.75 4.75l-4.75 -4.75zM369.3 327.0l4.75 4.75l-4.75 4.75l-4.75 -4.75zM371.9 326.0l4.75 4.75l-4.75 4.75l-4.75 -4.75zM374.4 324.9l4.75 4.75l-4.75 4.75l-4.75 -4.75zM377.0 323.7l4.75 4.75l-4.75 4.75l-4.75 -4.75zM379.6 322.6l4.75 4.75l-4.75 4.75l-4.75 -4.75zM382.1 321.4l4.75 4.75l-4.75 4.75l-4.75 -4.75zM384.7 320.2l4.75 4.75l-4.75 4.75l-4.75 -4.75zM387.2 318.9l4.75 4.75l-4.75 4.75l-4.75 -4.75zM389.8 317.6l4.75 4.75l-4.75 4.75l-4.75 -4.75zM392.4 316.3l4.75 4.75l-4.75 4.75l-4.75 -4.75zM394.9 315.0l4.75 4.75l-4.75 4.75l-4.75 -4.75zM397.5 313.6l4.75 4.75l-4.75 4.75l-4.75 -4.75zM400.0 312.2l4.75 4.75l-4.75 4.75l-4.75 -4.75zM402.6 310.7l4.75 4.75l-4.75 4.75l-4.75 -4.75zM405.2 309.2l4.75 4.75l-4.75 4.75l-4.75 -4.75zM407.7 307.7l4.75 4.75l-4.75 4.75l-4.75 -4.75zM410.3 306.1l4.75 4.75l-4.75 4.75l-4.75 -4.75zM412.9 304.5l4.75 4.75l-4.75 4.75l-4.75 -4.75zM415.4 302.8l4.75 4.75l-4.75 4.75l-4.75 -4.75zM418.0 301.1l4.75 4.75l-4.75 4.75l-4.75 -4.75zM420.5 299.4l4.75 4.75l-4.75 4.75l-4.75 -4.75zM423.1 297.6l4.75 4.75l-4.75 4.75l-4.75 -4.75zM425.7 295.8l4.75 4.75l-4.75 4.75l-4.75 -4.75zM428.2 293.9l4.75 4.75l-4.75 4.75l-4.75 -4.75zM430.8 292.0l4.75 4.75l-4.75 4.75l-4.75 -4.75zM433.3 290.1l4.75 4.75l-4.75 4.75l-4.75 -4.75zM435.9 288.1l4.75 4.75l-4.75 4.75l-4.75 -4.75zM438.5 286.0l4.75 4.75l-4.75 4.75l-4.75 -4.75zM441.0 283.9l4.75 4.75l-4.75 4.75l-4.75 -4.75zM443.6 281.8l4.75 4.75l-4.75 4.75l-4.75 -4.75zM446.1 279.6l4.75 4.75l-4.75 4.75l-4.75 -4.75zM448.7 277.3l4.75 4.75l-4.75 4.75l-4.75 -4.75zM451.3 275.1l4.75 4.75l-4.75 4.75l-4.75 -4.75zM453.8 272.8l4.75 4.75l-4.75 4.75l-4.75 -4.75zM456.4 270.4l4.75 4.75l-4.75 4.75l-4.75 -4.75zM458.9 268.1l4.75 4.75l-4.75 4.75l-4.75 -4.75zM461.5 265.7l4.75 4.75l-4.75 4.75l-4.75 -4.75zM464.1 263.3l4.75 4.75l-4.75 4.75l-4.75 -4.75zM466.6 260.9l4.75 4.75l-4.75 4.75l-4.75 -4.75zM469.2 258.5l4.75 4.75l-4.75 4.75l-4.75 -4.75zM471.7 256.1l4.75 4.75l-4.75 4.75l-4.75 -4.75zM474.3 253.7l4.75 4.75l-4.75 4.75l-4.75 -4.75zM476.9 251.3l4.75 4.75l-4.75 4.75l-4.75 -4.75zM479.4 248.9l4.75 4.75l-4.75 4.75l-4.75 -4.75zM482.0 246.5l4.75 4.75l-4.75 4.75l-4.75 -4.75zM484.6 232.4l4.75 4.75l-4.75 4.75l-4.75 -4.75zM487.1 241.7l4.75 4.75l-4.75 4.75l-4.75 -4.75zM489.7 239.3l4.75 4.75l-4.75 4.75l-4.75 -4.75zM492.2 237.0l4.75 4.75l-4.75 4.75l-4.75 -4.75zM494.8 234.6l4.75 4.75l-4.75 4.75l-4.75 -4.75zM497.4 232.3l4.75 4.75l-4.75 4.75l-4.75 -4.75zM499.9 229.9l4.75 4.75l-4.75 4.75l-4.75 -4.75zM502.5 227.6l4.75 4.75l-4.75 4.75l-4.75 -4.75zM505.0 225.3l4.75 4.75l-4.75 4.75l-4.75 -4.75zM507.6 223.0l4.75 4.75l-4.75 4.75l-4.75 -4.75zM510.2 220.7l4.75 4.75l-4.75 4.75l-4.75 -4.75zM512.7 218.4l4.75 4.75l-4.75 4.75l-4.75 -4.75zM515.3 216.1l4.75 4.75l-4.75 4.75l-4.75 -4.75zM517.8 213.8l4.75 4.75l-4.75 4.75l-4.75 -4.75zM520.4 211.5l4.75 4.75l-4.75 4.75l-4.75 -4.75zM523.0 209.2l4.75 4.75l-4.75 4.75l-4.75 -4.75zM525.5 207.0l4.75 4.75l-4.75 4.75l-4.75 -4.75zM528.1 204.7l4.75 4.75l-4.75 4.75l-4.75 -4.75zM530.6 202.4l4.75 4.75l-4.75 4.75l-4.75 -4.75zM533.2 200.2l4.75 4.75l-4.75 4.75l-4.75 -4.75zM535.8 197.9l4.75 4.75l-4.75 4.75l-4.75 -4.75zM538.3 195.7l4.75 4.75l-4.75 4.75l-4.75 -4.75zM540.9 193.4l4.75 4.75l-4.75 4.75l-4.75 -4.75zM543.4 191.1l4.75 4.75l-4.75 4.75l-4.75 -4.75zM546.0 188.9l4.75 4.75l-4.75 4.75l-4.75 -4.75zM548.6 186.6l4.75 4.75l-4.75 4.75l-4.75 -4.75zM551.1 184.4l4.75 4.75l-4.75 4.75l-4.75 -4.75zM553.7 182.1l4.75 4.75l-4.75 4.75l-4.75 -4.75zM556.3 179.9l4.75 4.75l-4.75 4.75l-4.75 -4.75zM558.8 177.6l4.75 4.75l-4.75 4.75l-4.75 -4.75zM561.4 175.4l4.75 4.75l-4.75 4.75l-4.75 -4.75zM563.9 173.1l4.75 4.75l-4.75 4.75l-4.75 -4.75zM566.5 170.9l4.75 4.75l-4.75 4.75l-4.75 -4.75zM569.1 168.6l4.75 4.75l-4.75 4.75l-4.75 -4.75zM571.6 166.3l4.75 4.75l-4.75 4.75l-4.75 -4.75zM574.2 164.1l4.75 4.75l-4.75 4.75l-4.75 -4.75zM576.7 161.8l4.75 4.75l-4.75 4.75l-4.75 -4.75zM579.3 159.5l4.75 4.75l-4.75 4.75l-4.75 -4.75zM581.9 157.3l4.75 4.75l-4.75 4.75l-4.75 -4.75zM584.4 155.0l4.75 4.75l-4.75 4.75l-4.75 -4.75zM587.0 152.7l4.75 4.75l-4.75 4.75l-4.75 -4.75zM589.5 150.4l4.75 4.75l-4.75 4.75l-4.75 -4.75zM592.1 148.1l4.75 4.75l-4.75 4.75l-4.75 -4.75zM594.7 145.8l4.75 4.75l-4.75 4.75l-4.75 -4.75zM597.2 143.5l4.75 4.75l-4.75 4.75l-4.75 -4.75zM599.8 141.2l4.75 4.75l-4.75 4.75l-4.75 -4.75zM602.3 138.8l4.75 4.75l-4.75 4.75l-4.75 -4.75zM604.9 136.5l4.75 4.75l-4.75 4.75l-4.75 -4.75zM607.5 134.2l4.75 4.75l-4.75 4.75l-4.75 -4.75zM610.0 131.8l4.75 4.75l-4.75 4.75l-4.75 -4.75zM612.6 129.5l4.75 4.75l-4.75 4.75l-4.75 -4.75zM615.1 127.1l4.75 4.75l-4.75 4.75l-4.75 -4.75zM617.7 124.7l4.75 4.75l-4.75 4.75l-4.75 -4.75zM620.3 122.2l4.75 4.75l-4.75 4.75l-4.75 -4.75zM622.8 119.7l4.75 4.75l-4.75 4.75l-4.75 -4.75zM625.4 117.1l4.75 4.75l-4.75 4.75l-4.75 -4.75zM628.0 114.4l4.75 4.75l-4.75 4.75l-4.75 -4.75zM630.5 111.7l4.75 4.75l-4.75 4.75l-4.75 -4.75zM633.1 108.9l4.75 4.75l-4.75 4.75l-4.75 -4.75zM635.6 105.9l4.75 4.75l-4.75 4.75l-4.75 -4.75zM638.2 102.8l4.75 4.75l-4.75 4.75l-4.75 -4.75zM640.8 99.7l4.75 4.75l-4.75 4.75l-4.75 -4.75zM643.3 96.5l4.75 4.75l-4.75 4.75l-4.75 -4.75zM645.9 93.2l4.75 4.75l-4.75 4.75l-4.75 -4.75zM648.4 90.0l4.75 4.75l-4.75 4.75l-4.75 -4.75zM651.0 86.8l4.75 4.75l-4.75 4.75l-4.75 -4.75z"/>
<path fill="#1F497D" d="M138.8 354.6l4.75 4.75l-4.75 4.75l-4.75 -4.75zM141.4 354.5l4.75 4.75l-4.75 4.75l-4.75 -4.75zM144.0 354.5l4.75 4.75l-4.75 4.75l-4.75 -4.75zM146.5 354.5l4.75 4.75l-4.75 4.75l-4.75 -4.75zM149.1 354.5l4.75 4.75l-4.75 4.75l-4.75 -4.75zM151.7 354.5l4.75 4.75l-4.75 4.75l-4.75 -4.75zM154.2 354.4l4.75 4.75l-4.75 4.75l-4.75 -4.75zM156.8 354.4l4.75 4.75l-4.75 4.75l-4.75 -4.75zM159.3 354.4l4.75 4.75l-4.75 4.75l-4.75 -4.75zM161.9 354.4l4.75 4.75l-4.75 4.75l-4.75 -4.75zM164.5 354.4l4.75 4.75l-4.75 4.75l-4.75 -4.75zM167.0 354.4l4.75 4.75l-4.75 4.75l-4.75 -4.75zM169.6 354.4l4.75 4.75l-4.75 4.75l-4.75 -4.75zM172.1 354.4l4.75 4.75l-4.75 4.75l-4.75 -4.75zM174.7 354.4l4.75 4.75l-4.75 4.75l-4.75 -4.75zM177.3 354.5l4.75 4.75l-4.75 4.75l-4.75 -4.75zM179.8 354.5l4.75 4.75l-4.75 4.75l-4.75 -4.75zM182.4 354.5l4.75 4.75l-4.75 4.75l-4.75 -4.75zM184.9 354.5l4.75 4.75l-4.75 4.75l-4.75 -4.75zM187.5 354.5l4.75 4.75l-4.75 4.75l-4.75 -4.75zM190.1 354.5l4.75 4.75l-4.75 4.75l-4.75 -4.75zM192.6 354.5l4.75 4.75l-4.75 4.75l-4.75 -4.75zM195.2 354.6l4.75 4.75l-4.75 4.75l-4.75 -4.75zM197.7 354.6l4.75 4.75l-4.75 4.75l-4.75 -4.75zM200.3 354.6l4.75 4.75l-4.75 4.75l-4.75 -4.75zM202.9 354.6l4.75 4.75l-4.75 4.75l-4.75 -4.75zM205.4 354.6l4.75 4.75l-4.75 4.75l-4.75 -4.75zM208.0 354.6l4.75 4.75l-4.75 4.75l-4.75 -4.75zM210.6 354.6l4.75 4.75l-4.75 4.75l-4.75 -4.75zM213.1 354.6l4.75 4.75l-4.75 4.75l-4.75 -4.75zM215.7 354.6l4.75 4.75l-4.75 4.75l-4.75 -4.75zM218.2 354.6l4.75 4.75l-4.75 4.75l-4.75 -4.75zM220.8 354.6l4.75 4.75l-4.75 4.75l-4.75 -4.75zM223.4 354.6l4.75 4.75l-4.75 4.75l-4.75 -4.75zM225.9 354.6l4.75 4.75l-4.75 4.75l-4.75 -4.75zM228.5 354.6l4.75 4.75l-4.75 4.75l-4.75 -4.75zM231.0 354.5l4.75 4.75l-4.75 4.75l-4.75 -4.75zM233.6 354.5l4.75 4.75l-4.75 4.75l-4.75 -4.75zM236.2 354.5l4.75 4.75l-4.75 4.75l-4.75 -4.75zM238.7 354.5l4.75 4.75l-4.75 4.75l-4.75 -4.75zM241.3 354.4l4.75 4.75l-4.75 4.75l-4.75 -4.75zM243.8 354.4l4.75 4.75l-4.75 4.75l-4.75 -4.75zM246.4 354.3l4.75 4.75l-4.75 4.75l-4.75 -4.75zM249.0 354.3l4.75 4.75l-4.75 4.75l-4.75 -4.75zM251.5 354.2l4.75 4.75l-4.75 4.75l-4.75 -4.75zM254.1 354.1l4.75 4.75l-4.75 4.75l-4.75 -4.75zM256.6 354.0l4.75 4.75l-4.75 4.75l-4.75 -4.75zM259.2 354.0l4.75 4.75l-4.75 4.75l-4.75 -4.75zM261.8 353.9l4.75 4.75l-4.75 4.75l-4.75 -4.75zM264.3 353.8l4.75 4.75l-4.75 4.75l-4.75 -4.75zM266.9 353.7l4.75 4.75l-4.75 4.75l-4.75 -4.75zM269.4 353.5l4.75 4.75l-4.75 4.75l-4.75 -4.75zM272.0 353.4l4.75 4.75l-4.75 4.75l-4.75 -4.75zM274.6 353.3l4.75 4.75l-4.75 4.75l-4.75 -4.75zM277.1 353.2l4.75 4.75l-4.75 4.75l-4.75 -4.75zM279.7 353.0l4.75 4.75l-4.75 4.75l-4.75 -4.75zM282.3 352.8l4.75 4.75l-4.75 4.75l-4.75 -4.75zM284.8 352.7l4.75 4.75l-4.75 4.75l-4.75 -4.75zM287.4 352.5l4.75 4.75l-4.75 4.75l-4.75 -4.75zM289.9 352.3l4.75 4.75l-4.75 4.75l-4.75 -4.75zM292.5 352.1l4.75 4.75l-4.75 4.75l-4.75 -4.75zM295.1 351.9l4.75 4.75l-4.75 4.75l-4.75 -4.75zM297.6 351.7l4.75 4.75l-4.75 4.75l-4.75 -4.75zM300.2 351.4l4.75 4.75l-4.75 4.75l-4.75 -4.75zM302.7 351.2l4.75 4.75l-4.75 4.75l-4.75 -4.75zM305.3 350.9l4.75 4.75l-4.75 4.75l-4.75 -4.75zM307.9 350.6l4.75 4.75l-4.75 4.75l-4.75 -4.75zM310.4 350.4l4.75 4.75l-4.75 4.75l-4.75 -4.75zM313.0 350.1l4.75 4.75l-4.75 4.75l-4.75 -4.75zM315.5 349.8l4.75 4.75l-4.75 4.75l-4.75 -4.75zM318.1 349.4l4.75 4.75l-4.75 4.75l-4.75 -4.75zM320.7 349.1l4.75 4.75l-4.75 4.75l-4.75 -4.75zM323.2 348.7l4.75 4.75l-4.75 4.75l-4.75 -4.75zM325.8 348.4l4.75 4.75l-4.75 4.75l-4.75 -4.75zM328.3 348.0l4.75 4.75l-4.75 4.75l-4.75 -4.75zM330.9 347.6l4.75 4.75l-4.75 4.75l-4.75 -4.75zM333.5 347.2l4.75 4.75l-4.75 4.75l-4.75 -4.75zM336.0 346.8l4.75 4.75l-4.75 4.75l-4.75 -4.75zM338.6 346.3l4.75 4.75l-4.75 4.75l-4.75 -4.75zM341.1 345.9l4.75 4.75l-4.75 4.75l-4.75 -4.75zM343.7 345.4l4.75 4.75l-4.75 4.75l-4.75 -4.75zM346.3 344.9l4.75 4.75l-4.75 4.75l-4.75 -4.75zM348.8 344.4l4.75 4.75l-4.75 4.75l-4.75 -4.75zM351.4 343.9l4.75 4.75l-4.75 4.75l-4.75 -4.75zM354.0 343.4l4.75 4.75l-4.75 4.75l-4.75 -4.75zM356.5 342.8l4.75 4.75l-4.75 4.75l-4.75 -4.75zM359.1 342.2l4.75 4.75l-4.75 4.75l-4.75 -4.75zM361.6 341.7l4.75 4.75l-4.75 4.75l-4.75 -4.75zM364.2 341.0l4.75 4.75l-4.75 4.75l-4.75 -4.75zM366.8 340.4l4.75 4.75l-4.75 4.75l-4.75 -4.75zM369.3 339.8l4.75 4.75l-4.75 4.75l-4.75 -4.75zM371.9 339.1l4.75 4.75l-4.75 4.75l-4.75 -4.75zM374.4 338.4l4.75 4.75l-4.75 4.75l-4.75 -4.75zM377.0 337.7l4.75 4.75l-4.75 4.75l-4.75 -4.75zM379.6 337.0l4.75 4.75l-4.75 4.75l-4.75 -4.75zM382.1 336.2l4.75 4.75l-4.75 4.75l-4.75 -4.75zM384.7 335.4l4.75 4.75l-4.75 4.75l-4.75 -4.75zM387.2 334.6l4.75 4.75l-4.75 4.75l-4.75 -4.75zM389.8 333.8l4.75 4.75l-4.75 4.75l-4.75 -4.75zM392.4 333.0l4.75 4.75l-4.75 4.75l-4.75 -4.75zM394.9 332.1l4.75 4.75l-4.75 4.75l-4.75 -4.75zM397.5 331.2l4.75 4.75l-4.75 4.75l-4.75 -4.75zM400.0 330.3l4.75 4.75l-4.75 4.75l-4.75 -4.75zM402.6 329.3l4.75 4.75l-4.75 4.75l-4.75 -4.75zM405.2 328.3l4.75 4.75l-4.75 4.75l-4.75 -4.75zM407.7 327.3l4.75 4.75l-4.75 4.75l-4.75 -4.75zM410.3 326.3l4.75 4.75l-4.75 4.75l-4.75 -4.75zM412.9 325.2l4.75 4.75l-4.75 4.75l-4.75 -4.75zM415.4 324.1l4.75 4.75l-4.75 4.75l-4.75 -4.75zM418.0 323.0l4.75 4.75l-4.75 4.75l-4.75 -4.75zM420.5 321.9l4.75 4.75l-4.75 4.75l-4.75 -4.75zM423.1 320.7l4.75 4.75l-4.75 4.75l-4.75 -4.75zM425.7 319.5l4.75 4.75l-4.75 4.75l-4.75 -4.75zM428.2 318.2l4.75 4.75l-4.75 4.75l-4.75 -4.75zM430.8 316.9l4.75 4.75l-4.75 4.75l-4.75 -4.75zM433.3 315.6l4.75 4.75l-4.75 4.75l-4.75 -4.75zM435.9 314.2l4.75 4.75l-4.75 4.75l-4.75 -4.75zM438.5 312.9l4.75 4.75l-4.75 4.75l-4.75 -4.75zM441.0 311.4l4.75 4.75l-4.75 4.75l-4.75 -4.75zM443.6 310.0l4.75 4.75l-4.75 4.75l-4.75 -4.75zM446.1 308.5l4.75 4.75l-4.75 4.75l-4.75 -4.75zM448.7 306.9l4.75 4.75l-4.75 4.75l-4.75 -4.75zM451.3 305.4l4.75 4.75l-4.75 4.75l-4.75 -4.75zM453.8 303.8l4.75 4.75l-4.75 4.75l-4.75 -4.75zM456.4 302.1l4.75 4.75l-4.75 4.75l-4.75 -4.75zM458.9 300.4l4.75 4.75l-4.75 4.75l-4.75 -4.75zM461.5 298.7l4.75 4.75l-4.75 4.75l-4.75 -4.75zM464.1 296.9l4.75 4.75l-4.75 4.75l-4.75 -4.75zM466.6 295.1l4.75 4.75l-4.75 4.75l-4.75 -4.75zM469.2 293.3l4.75 4.75l-4.75 4.75l-4.75 -4.75zM471.7 291.4l4.75 4.75l-4.75 4.75l-4.75 -4.75zM474.3 289.4l4.75 4.75l-4.75 4.75l-4.75 -4.75zM476.9 287.5l4.75 4.75l-4.75 4.75l-4.75 -4.75zM479.4 285.4l4.75 4.75l-4.75 4.75l-4.75 -4.75zM482.0 283.4l4.75 4.75l-4.75 4.75l-4.75 -4.75zM484.6 281.3l4.75 4.75l-4.75 4.75l-4.75 -4.75zM487.1 279.1l4.75 4.75l-4.75 4.75l-4.75 -4.75zM489.7 276.9l4.75 4.75l-4.75 4.75l-4.75 -4.75zM492.2 274.7l4.75 4.75l-4.75 4.75l-4.75 -4.75zM494.8 272.4l4.75 4.75l-4.75 4.75l-4.75 -4.75zM497.4 268.2l4.75 4.75l-4.75 4.75l-4.75 -4.75zM499.9 267.7l4.75 4.75l-4.75 4.75l-4.75 -4.75zM502.5 265.2l4.75 4.75l-4.75 4.75l-4.75 -4.75zM505.0 262.8l4.75 4.75l-4.75 4.75l-4.75 -4.75zM507.6 260.3l4.75 4.75l-4.75 4.75l-4.75 -4.75zM510.2 257.7l4.75 4.75l-4.75 4.75l-4.75 -4.75zM512.7 255.1l4.75 4.75l-4.75 4.75l-4.75 -4.75zM515.3 252.4l4.75 4.75l-4.75 4.75l-4.75 -4.75zM517.8 249.8l4.75 4.75l-4.75 4.75l-4.75 -4.75zM520.4 247.0l4.75 4.75l-4.75 4.75l-4.75 -4.75zM523.0 244.2l4.75 4.75l-4.75 4.75l-4.75 -4.75zM525.5 241.4l4.75 4.75l-4.75 4.75l-4.75 -4.75zM528.1 238.6l4.75 4.75l-4.75 4.75l-4.75 -4.75zM530.6 235.6l4.75 4.75l-4.75 4.75l-4.75 -4.75zM533.2 232.7l4.75 4.75l-4.75 4.75l-4.75 -4.75zM535.8 229.7l4.75 4.75l-4.75 4.75l-4.75 -4.75zM538.3 226.7l4.75 4.75l-4.75 4.75l-4.75 -4.75zM540.9 223.6l4.75 4.75l-4.75 4.75l-4.75 -4.75zM543.4 220.4l4.75 4.75l-4.75 4.75l-4.75 -4.75zM546.0 217.3l4.75 4.75l-4.75 4.75l-4.75 -4.75zM548.6 214.0l4.75 4.75l-4.75 4.75l-4.75 -4.75zM551.1 210.8l4.75 4.75l-4.75 4.75l-4.75 -4.75zM553.7 207.5l4.75 4.75l-4.75 4.75l-4.75 -4.75zM556.3 204.1l4.75 4.75l-4.75 4.75l-4.75 -4.75zM558.8 200.7l4.75 4.75l-4.75 4.75l-4.75 -4.75zM561.4 197.3l4.75 4.75l-4.75 4.75l-4.75 -4.75zM563.9 193.9l4.75 4.75l-4.75 4.75l-4.75 -4.75zM566.5 190.3l4.75 4.75l-4.75 4.75l-4.75 -4.75zM569.1 186.5l4.75 4.75l-4.75 4.75l-4.75 -4.75zM571.6 183.3l4.75 4.75l-4.75 4.75l-4.75 -4.75zM574.2 179.4l4.75 4.75l-4.75 4.75l-4.75 -4.75zM576.7 175.2l4.75 4.75l-4.75 4.75l-4.75 -4.75zM579.3 172.2l4.75 4.75l-4.75 4.75l-4.75 -4.75zM581.9 167.9l4.75 4.75l-4.75 4.75l-4.75 -4.75zM584.4 164.1l4.75 4.75l-4.75 4.75l-4.75 -4.75zM587.0 160.5l4.75 4.75l-4.75 4.75l-4.75 -4.75zM589.5 157.5l4.75 4.75l-4.75 4.75l-4.75 -4.75zM592.1 152.9l4.75 4.75l-4.75 4.75l-4.75 -4.75zM594.7 149.2l4.75 4.75l-4.75 4.75l-4.75 -4.75zM597.2 146.0l4.75 4.75l-4.75 4.75l-4.75 -4.75zM599.8 141.7l4.75 4.75l-4.75 4.75l-4.75 -4.75zM602.3 136.4l4.75 4.75l-4.75 4.75l-4.75 -4.75zM604.9 131.9l4.75 4.75l-4.75 4.75l-4.75 -4.75zM607.5 126.7l4.75 4.75l-4.75 4.75l-4.75 -4.75zM610.0 122.3l4.75 4.75l-4.75 4.75l-4.75 -4.75zM612.6 118.3l4.75 4.75l-4.75 4.75l-4.75 -4.75zM615.1 113.4l4.75 4.75l-4.75 4.75l-4.75 -4.75zM617.7 108.3l4.75 4.75l-4.75 4.75l-4.75 -4.75zM620.3 103.9l4.75 4.75l-4.75 4.75l-4.75 -4.75zM622.8 97.7l4.75 4.75l-4.75 4.75l-4.75 -4.75zM625.4 93.2l4.75 4.75l-4.75 4.75l-4.75 -4.75zM628.0 88.8l4.75 4.75l-4.75 4.75l-4.75 -4.75zM630.5 83.7l4.75 4.75l-4.75 4.75l-4.75 -4.75zM633.1 79.2l4.75 4.75l-4.75 4.75l-4.75 -4.75zM635.6 74.2l4.75 4.75l-4.75 4.75l-4.75 -4.75zM638.2 69.8l4.75 4.75l-4.75 4.75l-4.75 -4.75zM640.8 64.2l4.75 4.75l-4.75 4.75l-4.75 -4.75zM643.3 62.2l4.75 4.75l-4.75 4.75l-4.75 -4.75zM645.9 53.2l4.75 4.75l-4.75 4.75l-4.75 -4.75zM648.4 52.2l4.75 4.75l-4.75 4.75l-4.75 -4.75zM651.0 43.5l4.75 4.75l-4.75 4.75l-4.75 -4.75z"/>
<path fill="#FF00FF" d="M138.8 354.1l4.75 4.75l-4.75 4.75l-4.75 -4.75zM141.4 354.1l4.75 4.75l-4.75 4.75l-4.75 -4.75zM144.0 354.0l4.75 4.75l-4.75 4.75l-4.75 -4.75zM146.5 353.9l4.75 4.75l-4.75 4.75l-4.75 -4.75zM149.1 353.9l4.75 4.75l-4.75 4.75l-4.75 -4.75zM151.7 353.8l4.75 4.75l-4.75 4.75l-4.75 -4.75zM154.2 353.7l4.75 4.75l-4.75 4.75l-4.75 -4.75zM156.8 353.7l4.75 4.75l-4.75 4.75l-4.75 -4.75zM159.3 353.6l4.75 4.75l-4.75 4.75l-4.75 -4.75zM161.9 353.6l4.75 4.75l-4.75 4.75l-4.75 -4.75zM164.5 353.5l4.75 4.75l-4.75 4.75l-4.75 -4.75zM167.0 353.5l4.75 4.75l-4.75 4.75l-4.75 -4.75zM169.6 353.4l4.75 4.75l-4.75 4.75l-4.75 -4.75zM172.1 353.4l4.75 4.75l-4.75 4.75l-4.75 -4.75zM174.7 353.3l4.75 4.75l-4.75 4.75l-4.75 -4.75zM177.3 353.3l4.75 4.75l-4.75 4.75l-4.75 -4.75zM179.8 353.2l4.75 4.75l-4.75 4.75l-4.75 -4.75zM182.4 353.2l4.75 4.75l-4.75 4.75l-4.75 -4.75zM184.9 353.1l4.75 4.75l-4.75 4.75l-4.75 -4.75zM187.5 353.1l4.75 4.75l-4.75 4.75l-4.75 -4.75zM190.1 353.0l4.75 4.75l-4.75 4.75l-4.75 -4.75zM192.6 352.9l4.75 4.75l-4.75 4.75l-4.75 -4.75zM195.2 352.9l4.75 4.75l-4.75 4.75l-4.75 -4.75zM197.7 352.8l4.75 4.75l-4.75 4.75l-4.75 -4.75zM200.3 352.8l4.75 4.75l-4.75 4.75l-4.75 -4.75zM202.9 352.7l4.75 4.75l-4.75 4.75l-4.75 -4.75zM205.4 352.6l4.75 4.75l-4.75 4.75l-4.75 -4.75zM208.0 352.5l4.75 4.75l-4.75 4.75l-4.75 -4.75zM210.6 352.5l4.75 4.75l-4.75 4.75l-4.75 -4.75zM213.1 352.4l4.75 4.75l-4.75 4.75l-4.75 -4.75zM215.7 352.3l4.75 4.75l-4.75 4.75l-4.75 -4.75zM218.2 352.2l4.75 4.75l-4.75 4.75l-4.75 -4.75zM220.8 352.1l4.75 4.75l-4.75 4.75l-4.75 -4.75zM223.4 352.0l4.75 4.75l-4.75 4.75l-4.75 -4.75zM225.9 351.9l4.75 4.75l-4.75 4.75l-4.75 -4.75zM228.5 351.8l4.75 4.75l-4.75 4.75l-4.75 -4.75zM231.0 351.7l4.75 4.75l-4.75 4.75l-4.75 -4.75zM233.6 351.5l4.75 4.75l-4.75 4.75l-4.75 -4.75zM236.2 351.4l4.75 4.75l-4.75 4.75l-4.75 -4.75zM238.7 351.3l4.75 4.75l-4.75 4.75l-4.75 -4.75zM241.3 351.1l4.75 4.75l-4.75 4.75l-4.75 -4.75zM243.8 351.0l4.75 4.75l-4.75 4.75l-4.75 -4.75zM246.4 350.8l4.75 4.75l-4.75 4.75l-4.75 -4.75zM249.0 350.6l4.75 4.75l-4.75 4.75l-4.75 -4.75zM251.5 350.5l4.75 4.75l-4.75 4.75l-4.75 -4.75zM254.1 350.3l4.75 4.75l-4.75 4.75l-4.75 -4.75zM256.6 350.1l4.75 4.75l-4.75 4.75l-4.75 -4.75zM259.2 349.9l4.75 4.75l-4.75 4.75l-4.75 -4.75zM261.8 349.7l4.75 4.75l-4.75 4.75l-4.75 -4.75zM264.3 349.4l4.75 4.75l-4.75 4.75l-4.75 -4.75zM266.9 349.2l4.75 4.75l-4.75 4.75l-4.75 -4.75zM269.4 349.0l4.75 4.75l-4.75 4.75l-4.75 -4.75zM272.0 348.7l4.75 4.75l-4.75 4.75l-4.75 -4.75zM274.6 348.4l4.75 4.75l-4.75 4.75l-4.75 -4.75zM277.1 348.2l4.75 4.75l-4.75 4.75l-4.75 -4.75zM279.7 347.9l4.75 4.75l-4.75 4.75l-4.75 -4.75zM282.3 347.6l4.75 4.75l-4.75 4.75l-4.75 -4.75zM284.8 347.3l4.75 4.75l-4.75 4.75l-4.75 -4.75zM287.4 346.9l4.75 4.75l-4.75 4.75l-4.75 -4.75zM289.9 346.6l4.75 4.75l-4.75 4.75l-4.75 -4.75zM292.5 346.3l4.75 4.75l-4.75 4.75l-4.75 -4.75zM295.1 345.9l4.75 4.75l-4.75 4.75l-4.75 -4.75zM297.6 345.5l4.75 4.75l-4.75 4.75l-4.75 -4.75zM300.2 345.1l4.75 4.75l-4.75 4.75l-4.75 -4.75zM302.7 344.7l4.75 4.75l-4.75 4.75l-4.75 -4.75zM305.3 344.3l4.75 4.75l-4.75 4.75l-4.75 -4.75zM307.9 343.9l4.75 4.75l-4.75 4.75l-4.75 -4.75zM310.4 343.4l4.75 4.75l-4.75 4.75l-4.75 -4.75zM313.0 342.9l4.75 4.75l-4.75 4.75l-4.75 -4.75zM315.5 342.4l4.75 4.75l-4.75 4.75l-4.75 -4.75zM318.1 341.9l4.75 4.75l-4.75 4.75l-4.75 -4.75zM320.7 341.4l4.75 4.75l-4.75 4.75l-4.75 -4.75zM323.2 340.8l4.75 4.75l-4.75 4.75l-4.75 -4.75zM325.8 340.3l4.75 4.75l-4.75 4.75l-4.75 -4.75zM328.3 339.7l4.75 4.75l-4.75 4.75l-4.75 -4.75zM330.9 339.0l4.75 4.75l-4.75 4.75l-4.75 -4.75zM333.5 338.4l4.75 4.75l-4.75 4.75l-4.75 -4.75zM336.0 337.7l4.75 4.75l-4.75 4.75l-4.75 -4.75zM338.6 337.0l4.75 4.75l-4.75 4.75l-4.75 -4.75zM341.1 336.2l4.75 4.75l-4.75 4.75l-4.75 -4.75zM343.7 335.4l4.75 4.75l-4.75 4.75l-4.75 -4.75zM346.3 334.6l4.75 4.75l-4.75 4.75l-4.75 -4.75zM348.8 333.8l4.75 4.75l-4.75 4.75l-4.75 -4.75zM351.4 332.9l4.75 4.75l-4.75 4.75l-4.75 -4.75zM354.0 332.0l4.75 4.75l-4.75 4.75l-4.75 -4.75zM356.5 331.0l4.75 4.75l-4.75 4.75l-4.75 -4.75zM359.1 330.0l4.75 4.75l-4.75 4.75l-4.75 -4.75zM361.6 329.0l4.75 4.75l-4.75 4.75l-4.75 -4.75zM364.2 327.9l4.75 4.75l-4.75 4.75l-4.75 -4.75zM366.8 326.8l4.75 4.75l-4.75 4.75l-4.75 -4.75zM369.3 325.6l4.75 4.75l-4.75 4.75l-4.75 -4.75zM371.9 324.4l4.75 4.75l-4.75 4.75l-4.75 -4.75zM374.4 323.2l4.75 4.75l-4.75 4.75l-4.75 -4.75zM377.0 321.9l4.75 4.75l-4.75 4.75l-4.75 -4.75zM379.6 320.6l4.75 4.75l-4.75 4.75l-4.75 -4.75zM382.1 319.2l4.75 4.75l-4.75 4.75l-4.75 -4.75zM384.7 317.8l4.75 4.75l-4.75 4.75l-4.75 -4.75zM387.2 316.3l4.75 4.75l-4.75 4.75l-4.75 -4.75zM389.8 314.8l4.75 4.75l-4.75 4.75l-4.75 -4.75zM392.4 313.3l4.75 4.75l-4.75 4.75l-4.75 -4.75zM394.9 311.6l4.75 4.75l-4.75 4.75l-4.75 -4.75zM397.5 310.0l4.75 4.75l-4.75 4.75l-4.75 -4.75zM400.0 308.3l4.75 4.75l-4.75 4.75l-4.75 -4.75zM402.6 306.5l4.75 4.75l-4.75 4.75l-4.75 -4.75zM405.2 304.7l4.75 4.75l-4.75 4.75l-4.75 -4.75zM407.7 302.9l4.75 4.75l-4.75 4.75l-4.75 -4.75zM410.3 301.0l4.75 4.75l-4.75 4.75l-4.75 -4.75zM412.9 299.0l4.75 4.75l-4.75 4.75l-4.75 -4.75zM415.4 297.0l4.75 4.75l-4.75 4.75l-4.75 -4.75zM418.0 295.0l4.75 4.75l-4.75 4.75l-4.75 -4.75zM420.5 292.9l4.75 4.75l-4.75 4.75l-4.75 -4.75zM423.1 290.7l4.75 4.75l-4.75 4.75l-4.75 -4.75zM425.7 288.5l4.75 4.75l-4.75 4.75l-4.75 -4.75zM428.2 286.2l4.75 4.75l-4.75 4.75l-4.75 -4.75zM430.8 283.9l4.75 4.75l-4.75 4.75l-4.75 -4.75zM433.3 281.5l4.75 4.75l-4.75 4.75l-4.75 -4.75zM435.9 279.1l4.75 4.75l-4.75 4.75l-4.75 -4.75zM438.5 276.7l4.75 4.75l-4.75 4.75l-4.75 -4.75zM441.0 274.2l4.75 4.75l-4.75 4.75l-4.75 -4.75zM443.6 271.6l4.75 4.75l-4.75 4.75l-4.75 -4.75zM446.1 269.0l4.75 4.75l-4.75 4.75l-4.75 -4.75zM448.7 266.4l4.75 4.75l-4.75 4.75l-4.75 -4.75zM451.3 263.7l4.75 4.75l-4.75 4.75l-4.75 -4.75zM453.8 261.0l4.75 4.75l-4.75 4.75l-4.75 -4.75zM456.4 258.2l4.75 4.75l-4.75 4.75l-4.75 -4.75zM458.9 255.4l4.75 4.75l-4.75 4.75l-4.75 -4.75zM461.5 252.6l4.75 4.75l-4.75 4.75l-4.75 -4.75zM464.1 249.7l4.75 4.75l-4.75 4.75l-4.75 -4.75zM466.6 246.8l4.75 4.75l-4.75 4.75l-4.75 -4.75zM469.2 243.9l4.75 4.75l-4.75 4.75l-4.75 -4.75zM471.7 240.9l4.75 4.75l-4.75 4.75l-4.75 -4.75zM474.3 238.0l4.75 4.75l-4.75 4.75l-4.75 -4.75zM476.9 234.9l4.75 4.75l-4.75 4.75l-4.75 -4.75zM479.4 231.9l4.75 4.75l-4.75 4.75l-4.75 -4.75zM482.0 228.9l4.75 4.75l-4.75 4.75l-4.75 -4.75zM484.6 225.8l4.75 4.75l-4.75 4.75l-4.75 -4.75zM487.1 222.7l4.75 4.75l-4.75 4.75l-4.75 -4.75zM489.7 219.6l4.75 4.75l-4.75 4.75l-4.75 -4.75zM492.2 216.4l4.75 4.75l-4.75 4.75l-4.75 -4.75zM494.8 213.3l4.75 4.75l-4.75 4.75l-4.75 -4.75zM497.4 210.2l4.75 4.75l-4.75 4.75l-4.75 -4.75zM499.9 207.0l4.75 4.75l-4.75 4.75l-4.75 -4.75zM502.5 203.8l4.75 4.75l-4.75 4.75l-4.75 -4.75zM505.0 200.6l4.75 4.75l-4.75 4.75l-4.75 -4.75zM507.6 197.5l4.75 4.75l-4.75 4.75l-4.75 -4.75zM510.2 194.3l4.75 4.75l-4.75 4.75l-4.75 -4.75zM512.7 191.1l4.75 4.75l-4.75 4.75l-4.75 -4.75zM515.3 187.9l4.75 4.75l-4.75 4.75l-4.75 -4.75zM517.8 184.7l4.75 4.75l-4.75 4.75l-4.75 -4.75zM520.4 181.6l4.75 4.75l-4.75 4.75l-4.75 -4.75zM523.0 178.4l4.75 4.75l-4.75 4.75l-4.75 -4.75zM525.5 175.2l4.75 4.75l-4.75 4.75l-4.75 -4.75zM528.1 172.1l4.75 4.75l-4.75 4.75l-4.75 -4.75zM530.6 168.9l4.75 4.75l-4.75 4.75l-4.75 -4.75zM533.2 165.8l4.75 4.75l-4.75 4.75l-4.75 -4.75zM535.8 162.6l4.75 4.75l-4.75 4.75l-4.75 -4.75zM538.3 159.5l4.75 4.75l-4.75 4.75l-4.75 -4.75zM540.9 156.3l4.75 4.75l-4.75 4.75l-4.75 -4.75zM543.4 153.2l4.75 4.75l-4.75 4.75l-4.75 -4.75zM546.0 150.1l4.75 4.75l-4.75 4.75l-4.75 -4.75zM548.6 146.9l4.75 4.75l-4.75 4.75l-4.75 -4.75zM551.1 143.8l4.75 4.75l-4.75 4.75l-4.75 -4.75zM553.7 140.7l4.75 4.75l-4.75 4.75l-4.75 -4.75zM556.3 137.6l4.75 4.75l-4.75 4.75l-4.75 -4.75zM558.8 134.4l4.75 4.75l-4.75 4.75l-4.75 -4.75zM561.4 131.3l4.75 4.75l-4.75 4.75l-4.75 -4.75zM563.9 128.2l4.75 4.75l-4.75 4.75l-4.75 -4.75zM566.5 125.1l4.75 4.75l-4.75 4.75l-4.75 -4.75zM569.1 122.0l4.75 4.75l-4.75 4.75l-4.75 -4.75zM571.6 118.9l4.75 4.75l-4.75 4.75l-4.75 -4.75zM574.2 115.8l4.75 4.75l-4.75 4.75l-4.75 -4.75zM576.7 112.7l4.75 4.75l-4.75 4.75l-4.75 -4.75zM579.3 109.7l4.75 4.75l-4.75 4.75l-4.75 -4.75zM581.9 106.6l4.75 4.75l-4.75 4.75l-4.75 -4.75zM584.4 103.5l4.75 4.75l-4.75 4.75l-4.75 -4.75zM587.0 100.4l4.75 4.75l-4.75 4.75l-4.75 -4.75zM589.5 97.3l4.75 4.75l-4.75 4.75l-4.75 -4.75zM592.1 94.1l4.75 4.75l-4.75 4.75l-4.75 -4.75zM594.7 91.0l4.75 4.75l-4.75 4.75l-4.75 -4.75zM597.2 87.9l4.75 4.75l-4.75 4.75l-4.75 -4.75zM599.8 84.7l4.75 4.75l-4.75 4.75l-4.75 -4.75zM602.3 81.6l4.75 4.75l-4.75 4.75l-4.75 -4.75zM604.9 78.4l4.75 4.75l-4.75 4.75l-4.75 -4.75zM607.5 75.3l4.75 4.75l-4.75 4.75l-4.75 -4.75zM610.0 72.1l4.75 4.75l-4.75 4.75l-4.75 -4.75zM612.6 68.8l4.75 4.75l-4.75 4.75l-4.75 -4.75zM615.1 65.6l4.75 4.75l-4.75 4.75l-4.75 -4.75zM617.7 62.4l4.75 4.75l-4.75 4.75l-4.75 -4.75zM620.3 59.1l4.75 4.75l-4.75 4.75l-4.75 -4.75zM622.8 55.8l4.75 4.75l-4.75 4.75l-4.75 -4.75zM625.4 52.5l4.75 4.75l-4.75 4.75l-4.75 -4.75zM628.0 49.2l4.75 4.75l-4.75 4.75l-4.75 -4.75zM630.5 45.8l4.75 4.75l-4.75 4.75l-4.75 -4.75zM633.1 42.4l4.75 4.75l-4.75 4.75l-4.75 -4.75zM635.6 39.0l4.75 4.75l-4.75 4.75l-4.75 -4.75zM638.2 35.6l4.75 4.75l-4.75 4.75l-4.75 -4.75zM640.8 32.1l4.75 4.75l-4.75 4.75l-4.75 -4.75zM643.3 28.6l4.75 4.75l-4.75 4.75l-4.75 -4.75zM645.9 25.1l4.75 4.75l-4.75 4.75l-4.75 -4.75zM648.4 21.5l4.75 4.75l-4.75 4.75l-4.75 -4.75zM651.0 17.9l4.75 4.75l-4.75 4.75l-4.75 -4.75z"/>
<rect x="88.65" y="11.9" width="56.15" height="141.0" fill="#fff" stroke="#000" stroke-width="1.5"/>
<path fill="#00CC00" d="M98.9 22.2l3.75 3.75l-3.75 3.75l-3.75 -3.75z"/>
<text transform="translate(106.5 29.95) scale(1 1.2)" font-size="13.5" font-weight="bold">STC1</text>
<path fill="#FF0000" d="M98.9 50.4l3.75 3.75l-3.75 3.75l-3.75 -3.75z"/>
<text transform="translate(106.5 58.15) scale(1 1.2)" font-size="13.5" font-weight="bold">STC2</text>
<path fill="#00CCFF" d="M98.9 78.6l3.75 3.75l-3.75 3.75l-3.75 -3.75z"/>
<text transform="translate(106.5 86.35) scale(1 1.2)" font-size="13.5" font-weight="bold">STC3</text>
<path fill="#1F497D" d="M98.9 106.8l3.75 3.75l-3.75 3.75l-3.75 -3.75z"/>
<text transform="translate(106.5 114.55) scale(1 1.2)" font-size="13.5" font-weight="bold">STC4</text>
<path fill="#FF00FF" d="M98.9 135.0l3.75 3.75l-3.75 3.75l-3.75 -3.75z"/>
<text transform="translate(106.5 142.75) scale(1 1.2)" font-size="13.5" font-weight="bold">STC5</text>
<text transform="translate(61.7 365.4) scale(1 1.065)" font-size="17.1" text-anchor="end">0</text>
<text transform="translate(61.7 294.9) scale(1 1.065)" font-size="17.1" text-anchor="end">0.005</text>
<text transform="translate(61.7 224.3) scale(1 1.065)" font-size="17.1" text-anchor="end">0.01</text>
<text transform="translate(61.7 153.8) scale(1 1.065)" font-size="17.1" text-anchor="end">0.015</text>
<text transform="translate(61.7 83.3) scale(1 1.065)" font-size="17.1" text-anchor="end">0.02</text>
<text transform="translate(61.7 12.8) scale(1 1.065)" font-size="17.1" text-anchor="end">0.025</text>
<text transform="translate(79.5 389.7) scale(1 1.065)" font-size="17.1" text-anchor="middle">1.5</text>
<text transform="translate(139.0 389.7) scale(1 1.065)" font-size="17.1" text-anchor="middle">2</text>
<text transform="translate(198.6 389.7) scale(1 1.065)" font-size="17.1" text-anchor="middle">2.5</text>
<text transform="translate(258.1 389.7) scale(1 1.065)" font-size="17.1" text-anchor="middle">3</text>
<text transform="translate(317.7 389.7) scale(1 1.065)" font-size="17.1" text-anchor="middle">3.5</text>
<text transform="translate(377.2 389.7) scale(1 1.065)" font-size="17.1" text-anchor="middle">4</text>
<text transform="translate(436.7 389.7) scale(1 1.065)" font-size="17.1" text-anchor="middle">4.5</text>
<text transform="translate(496.3 389.7) scale(1 1.065)" font-size="17.1" text-anchor="middle">5</text>
<text transform="translate(555.8 389.7) scale(1 1.065)" font-size="17.1" text-anchor="middle">5.5</text>
<text transform="translate(615.4 389.7) scale(1 1.065)" font-size="17.1" text-anchor="middle">6</text>
<text transform="translate(674.9 389.7) scale(1 1.065)" font-size="17.1" text-anchor="middle">6.5</text>
<text x="377.7" y="418.6" font-size="18.4" letter-spacing="0.35" font-weight="bold" text-anchor="middle">Log (<tspan font-style="italic" font-weight="normal">f</tspan>)</text>
<text transform="translate(16.1 187.4) rotate(-90) scale(1.07 1)" font-size="22.3" font-weight="bold" font-style="italic">M′′</text>
</svg>
</body></html>
